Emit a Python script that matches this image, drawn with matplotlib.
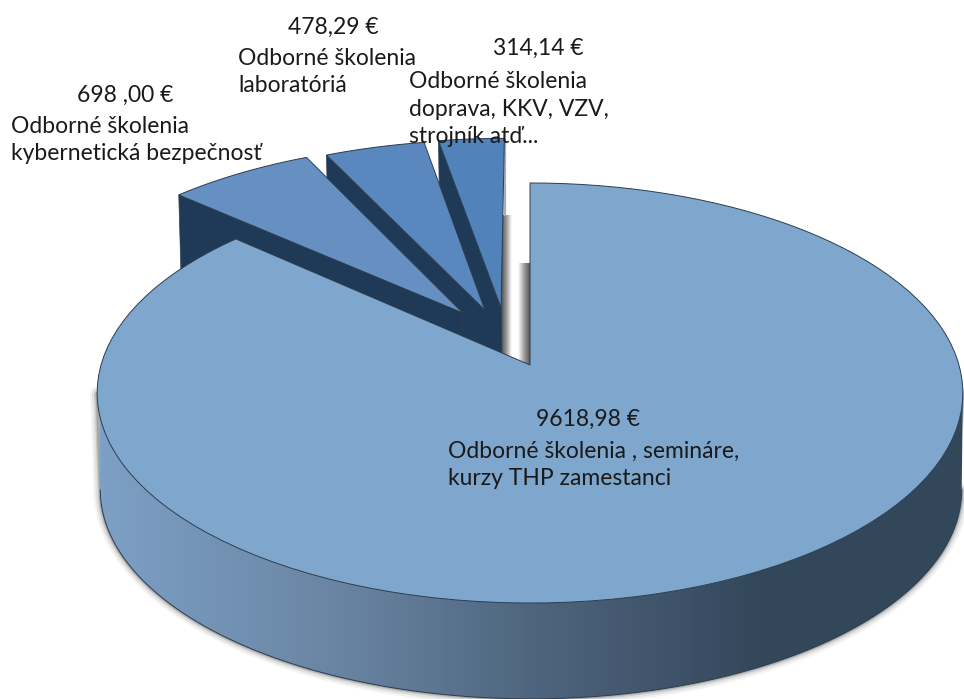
import numpy as np
import matplotlib.pyplot as plt
from matplotlib.colors import LinearSegmentedColormap
from matplotlib.patches import Polygon

# slices, clockwise from 12 o'clock
values = [9618.98, 698.00, 478.29, 314.14]
value_labels = ["9618,98 €", "698 ,00 €", "478,29 €", "314,14 €"]
names = [
    "Odborné školenia , semináre,\nkurzy THP zamestanci",
    "Odborné školenia\nkybernetická bezpečnosť",
    "Odborné školenia\nlaboratóriá",
    "Odborné školenia\ndoprava, KKV, VZV,\nstrojník atď...",
]

# pie geometry in pixels (perspective of a tilted disc)
CX, CY = 530, 365
A, B, K = 429.0, 206.3, 0.1333
DEPTH, BOTTOM_SCALE = 97, 0.995

# explode offset of each slice in the plane of the disc
offsets = [(0, 0), (-0.162, 0.261), (-0.109, 0.276), (-0.070, 0.287)]
widen = [1.0, 1.015, 1.015, 1.015]
top_colors = ["#7fa7cd", "#6690c2", "#5a87bd", "#5182b9"]
WALL = "#1f3a56"
EDGE = "#2b3d4f"
TEXT = "#1a1a1a"


def project(X, Y, bottom=False):
    w = 1 + K * Y
    x, y = A * X / w, B * Y / w
    if bottom:
        return np.column_stack([CX + 1 + x * BOTTOM_SCALE, CY - y * BOTTOM_SCALE + DEPTH])
    return np.column_stack([CX + x, CY - y])


def wedge(a0, a1, off, wide):
    t = np.radians(np.linspace(a0, a1, 120))
    X = np.concatenate([[0], np.sin(t) * wide]) + off[0]
    Y = np.concatenate([[0], np.cos(t)]) + off[1]
    return X, Y


fig = plt.figure(figsize=(9.64, 6.99), dpi=100)
ax = fig.add_axes([0, 0, 1, 1])
ax.axis("off")

edges = np.concatenate([[0], np.cumsum(values)]) / np.sum(values) * 360

# side wall of the big slice, with its soft shadow
t = np.radians(np.linspace(97.7, 262.3, 300))
wall_top = project(np.sin(t), np.cos(t))
wall_bot = project(np.sin(t), np.cos(t), bottom=True)
wall_pts = np.vstack([wall_top, wall_bot[::-1]])
for lw, alpha in [(10, 0.05), (7, 0.08), (4, 0.14), (2, 0.2)]:
    ax.plot(wall_pts[:, 0], wall_pts[:, 1], color="#222222", lw=lw, alpha=alpha, zorder=1)

wall_cmap = LinearSegmentedColormap.from_list(
    "wall", [(0, "#7da0c6"), (0.27, "#6a85a3"), (0.5, "#4f657f"),
             (0.77, "#33475a"), (1, "#34485b")])
grad = ax.imshow(np.linspace(0, 1, 256)[None, :], cmap=wall_cmap, extent=[100, 964, 699, 300],
                 aspect="auto", zorder=2)
wall_patch = Polygon(wall_pts, closed=True, fc="none", ec="none", transform=ax.transData)
ax.add_patch(wall_patch)
grad.set_clip_path(wall_patch)
ax.plot(wall_bot[:, 0], wall_bot[:, 1], color=EDGE, lw=0.7, zorder=2.1)

# shadows in the gap next to the big slice
fade = LinearSegmentedColormap.from_list("fade", ["#4a4a4a", "#9a9a9a", "#ffffff"])
ax.imshow(np.linspace(0, 1, 64)[None, :], cmap=fade, extent=[501, 512, 356, 215], aspect="auto", zorder=2.2)
ax.imshow(np.linspace(1, 0, 64)[None, :], cmap=fade, extent=[518, 531, 368, 263], aspect="auto", zorder=2.2)
ax.plot([505, 505], [140, 215], color="#a9afb5", lw=1.6, zorder=2.2)

# small slices, back to front, then the big one
for i in [3, 2, 1, 0]:
    X, Y = wedge(edges[i], edges[i + 1], offsets[i], widen[i])
    top = project(X, Y)
    z = 5
    if i > 0:
        # radial wall on the left of the slice
        z = 3 + (3 - i) * 0.5
        upper = project(X[[1, 0]], Y[[1, 0]])
        lower = project(X[[0, 1]], Y[[0, 1]], bottom=True)
        ax.add_patch(Polygon(np.vstack([upper, lower]), closed=True, fc=WALL, ec=EDGE, lw=0.5, zorder=z))
    ax.add_patch(Polygon(top, closed=True, fc=top_colors[i], ec=EDGE, lw=0.7, zorder=z + 0.1))

# labels
style = dict(fontsize=16.5, family="Lato", color=TEXT, zorder=8)
ax.text(333, 27, value_labels[2], ha="center", va="center", **style)
ax.text(238, 72, names[2], ha="left", va="center", linespacing=1.38, **style)
ax.text(538, 48, value_labels[3], ha="center", va="center", **style)
ax.text(409, 109, names[3], ha="left", va="center", linespacing=1.38, **style)
ax.text(125, 95, value_labels[1], ha="center", va="center", **style)
ax.text(11, 140, names[1], ha="left", va="center", linespacing=1.38, **style)
ax.text(588, 419, value_labels[0], ha="center", va="center", **style)
ax.text(448, 465, names[0], ha="left", va="center", linespacing=1.38, **style)

ax.set_xlim(0, 964)
ax.set_ylim(699, 0)
fig.savefig("out.png", dpi=100)
